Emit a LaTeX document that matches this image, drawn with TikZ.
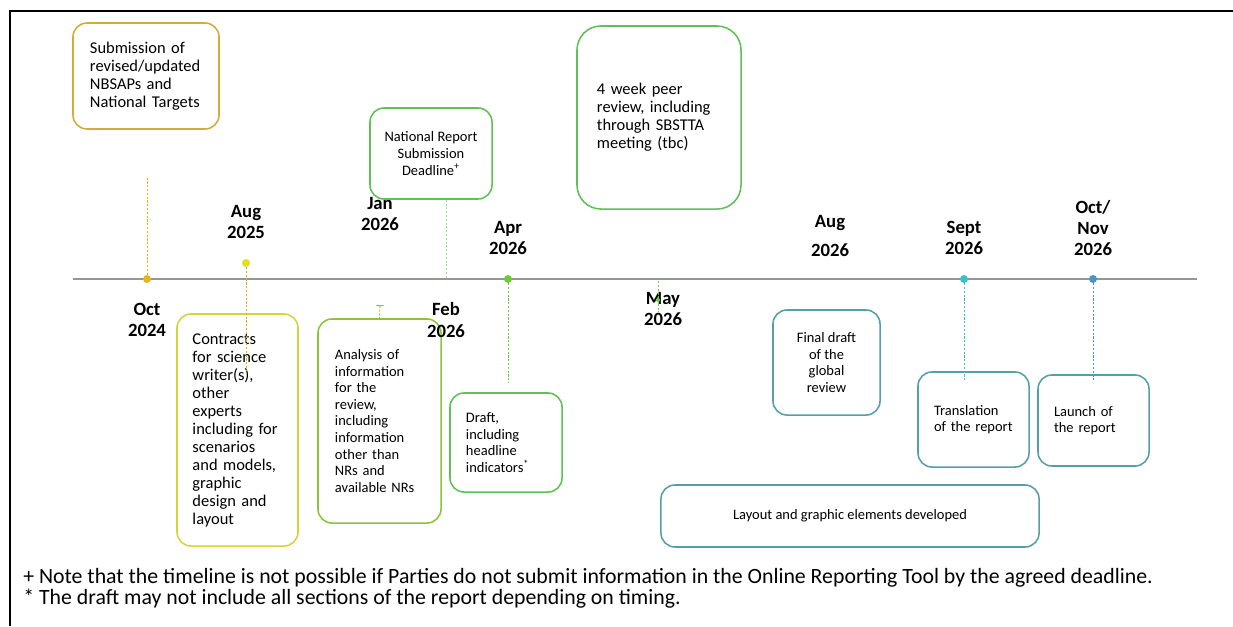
\documentclass[tikz,border=0pt]{standalone}
\usepackage{fontspec}
\setmainfont{Carlito}
\usetikzlibrary{positioning}
\usetikzlibrary{arrows.meta}

\definecolor{goldline}{RGB}{212,170,58}
\definecolor{yellowline}{RGB}{214,210,60}
\definecolor{limeline}{RGB}{140,195,60}
\definecolor{greenline}{RGB}{95,192,85}
\definecolor{tealline}{RGB}{85,160,168}
\definecolor{axisgray}{RGB}{150,150,150}
\definecolor{octcol}{RGB}{232,182,20}
\definecolor{augcol}{RGB}{226,224,30}
\definecolor{aprcol}{RGB}{105,205,55}
\definecolor{septcol}{RGB}{60,192,200}
\definecolor{novcol}{RGB}{70,150,200}

\begin{document}
\begin{tikzpicture}[x=0.025cm, y=-0.025cm,
    roundbox/.style={rectangle, draw, fill=white, rounded corners=3.5mm, line width=1.1pt, inner sep=0pt},
    datelabel/.style={font=\fontsize{13.3}{15}\selectfont\bfseries, align=center, inner sep=0pt},
    dotnode/.style={circle, inner sep=0pt, minimum size=2mm},
    linkline/.style={line width=0.6pt, dash pattern=on 1.5pt off 1.2pt},
    bigtext/.style={font=\fontsize{11.7}{12.8}\selectfont},
    smalltext/.style={font=\fontsize{10.3}{11.8}\selectfont},
    notetext/.style={anchor=base west, inner sep=0pt, font=\fontsize{15.5}{17}\selectfont}]
    \useasboundingbox (0,0) rectangle (1233,626);
    % Frame
    \draw[line width=1.2pt] (10,626) -- (10,11) -- (1233,11);

    % Timeline
    \coordinate (tstart) at (73,279);
    \coordinate (tend) at (1197,279);
    \draw[axisgray, line width=1.6pt] (tstart) -- (tend);

    % Date labels
    \node[datelabel] (octlbl) at (147,320) {Oct\\2024};
    \node[datelabel] (auglbl) at (246,222) {Aug\\2025};
    \node[datelabel] (janlbl) at (380,214) {Jan\\2026};
    \node[datelabel] (aprlbl) at (508,238) {Apr\\2026};
    \node[datelabel] (maylbl) at (663,309) {May\\2026};
    \node[datelabel] (aug2lbl) at (830,236) {Aug\\[5.6pt]2026};
    \node[datelabel] (septlbl) at (964,238) {Sept\\2026};
    \node[datelabel] (novlbl) at (1093,228) {Oct/\\Nov\\2026};

    % Boxes above the line
    \node[roundbox, draw=goldline, minimum width=36.5mm, minimum height=26.5mm, text width=28mm, align=left, bigtext] (nbsap) at (146,76)
        {Submission of\\revised/updated\\NBSAPs and\\National Targets};
    \node[roundbox, draw=greenline, minimum width=30.5mm, minimum height=22.75mm, align=center, smalltext] (natrep) at (431,153.5)
        {National Report\\Submission\\Deadline\textsuperscript{+}};
    \node[roundbox, draw=greenline, rounded corners=6mm, minimum width=41mm, minimum height=45.75mm, text width=31mm, align=left, bigtext] (peer) at (659,117.5)
        {4 week peer\\review, including\\through SBSTTA\\meeting (tbc)};

    % Boxes below the line
    \node[roundbox, draw=yellowline, minimum width=30.25mm, minimum height=58mm, text width=22.5mm, align=left, bigtext] (contracts) at (237.5,430)
        {Contracts\\for science\\writer(s),\\other\\experts\\including for\\scenarios\\and models,\\graphic\\design and\\layout};
    \node[roundbox, draw=limeline, minimum width=30.75mm, minimum height=51mm, text width=22.25mm, align=left, smalltext] (analysis) at (379.5,421)
        {Analysis of\\information\\for the\\review,\\including\\information\\other than\\NRs and\\available NRs};
    \node[roundbox, draw=greenline, minimum width=28mm, minimum height=24.75mm, text width=20mm, align=left, smalltext] (draft) at (506,442.5)
        {Draft,\\including\\headline\\indicators\textsuperscript{*}};
    \node[roundbox, draw=tealline, minimum width=26.75mm, minimum height=26.25mm, align=center, smalltext] (final) at (826.5,362.5)
        {Final draft\\of the\\global\\review};
    \node[roundbox, draw=tealline, minimum width=27.75mm, minimum height=23.75mm, text width=19.75mm, align=left, smalltext] (transl) at (973.5,419.5)
        {Translation\\of the report};
    \node[roundbox, draw=tealline, minimum width=27.75mm, minimum height=22.75mm, text width=19.75mm, align=left, smalltext] (launch) at (1093.5,420.5)
        {Launch of\\the report};
    \node[roundbox, draw=tealline, minimum width=94.5mm, minimum height=15.5mm, smalltext] (layout) at (850,516)
        {Layout and graphic elements developed};

    % Feb label sits over the analysis box
    \node[datelabel] (feblbl) at (446,320) {Feb\\2026};

    % Dots on the line
    \node[dotnode, fill=octcol] (octdot) at (147,279) {};
    \node[dotnode, fill=augcol] (augdot) at (246,263) {};
    \node[dotnode, fill=aprcol] (aprdot) at (508,279) {};
    \node[dotnode, fill=septcol] (septdot) at (964,279) {};
    \node[dotnode, fill=novcol] (novdot) at (1093,279) {};
    \node[dotnode, fill=aprcol, minimum size=1mm] (maydot) at (658,300) {};

    % Connectors
    \coordinate (octend) at (147,178);
    \coordinate (augend) at (246,371);
    \coordinate (jantick) at (380,305);
    \coordinate (febpt) at (446,279);
    \coordinate (aprend) at (508,383);
    \coordinate (maypt) at (658,281);
    \coordinate (mayend) at (658,312);
    \coordinate (septend) at (964,381);
    \coordinate (novend) at (1093,381);
    \draw[linkline, octcol] (octdot) -- (octend);
    \draw[linkline, augcol!85!black] (augdot) -- (augend);
    \draw[linkline, limeline, {Bar[width=5pt, line width=0.8pt]}-] (jantick) -- (analysis.north);
    \draw[linkline, greenline!60] (natrep.south -| febpt) -- (febpt);
    \draw[linkline, aprcol] (aprdot) -- (aprend);
    \draw[linkline, aprcol] (maypt) -- (mayend);
    \draw[linkline, septcol] (septdot) -- (septend);
    \draw[linkline, novcol] (novdot) -- (novend);

    % Notes
    \node[notetext] (note1) at (23,583)
        {+ Note that the timeline is not possible if Parties do not submit information in the Online Reporting Tool by the agreed deadline.};
    \node[notetext] (note2) at (23,604)
        {* The draft may not include all sections of the report depending on timing.};
\end{tikzpicture}
\end{document}
